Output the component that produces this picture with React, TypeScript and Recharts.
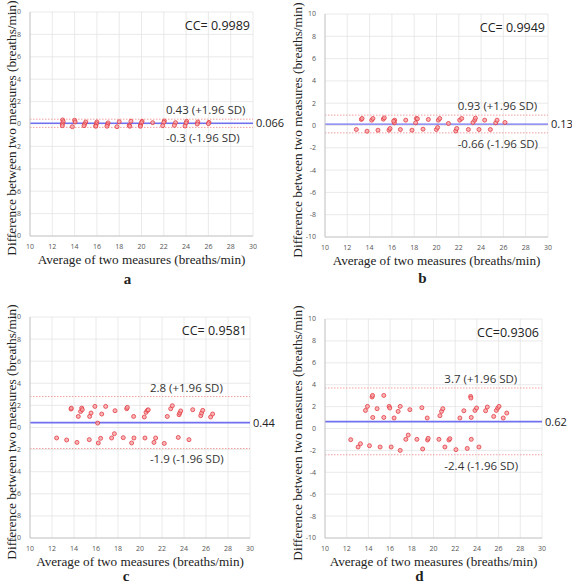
import React from "react";
import {
  ScatterChart,
  Scatter,
  XAxis,
  YAxis,
  CartesianGrid,
  ReferenceLine,
} from "recharts";

// panel a
const aAvg = [12.93, 12.98, 12.9, 12.9, 14.0, 14.05, 13.8, 15.0, 14.9, 14.85, 16.0, 15.95, 15.9, 15.9, 17.0, 16.95, 16.9, 18.0, 17.8, 19.05, 18.9, 18.95, 20.05, 20.0, 19.9, 19.9, 21.0, 22.05, 22.0, 21.9, 23.05, 22.95, 24.05, 24.0, 23.9, 25.05, 25.0, 26.05, 26.0];
const aDiff = [0.36, 0.2, 0.0, -0.15, 0.33, 0.18, -0.24, 0.18, 0.0, -0.15, 0.18, 0.03, -0.15, -0.2, 0.1, -0.06, -0.2, 0.2, -0.24, 0.25, -0.12, -0.2, 0.24, 0.12, -0.1, -0.2, 0.12, 0.27, 0.15, -0.15, 0.12, -0.12, 0.24, 0.1, -0.18, 0.18, 0.0, 0.15, 0.03];

// panel b
const bAvg = [12.81, 13.26, 13.32, 13.77, 14.19, 14.3, 14.75, 15.23, 15.32, 15.74, 15.83, 16.25, 16.22, 16.16, 16.76, 17.24, 17.8, 18.2, 18.13, 18.29, 18.79, 19.27, 19.99, 20.1, 20.17, 20.29, 21.07, 21.72, 21.81, 22.08, 22.26, 22.86, 23.27, 23.43, 23.49, 23.81, 24.32, 24.83, 25.31, 25.43, 26.14];
const bDiff = [-0.36, 0.54, 0.63, -0.51, 0.48, 0.63, -0.42, 0.57, 0.68, -0.42, -0.27, 0.48, 0.24, 0.39, -0.36, 0.48, -0.42, 0.63, 0.24, 0.6, -0.33, 0.54, -0.36, -0.18, 0.48, 0.63, 0.18, -0.49, -0.27, 0.48, 0.63, -0.36, 0.27, 0.48, 0.66, -0.36, 0.48, -0.36, 0.24, 0.48, 0.27];

// panel c
const cAvg = [13.73, 13.75, 14.39, 14.6, 14.7, 14.75, 15.42, 15.55, 15.9, 16.52, 16.88, 17.73, 18.79, 18.85, 19.42, 20.39, 20.55, 20.67, 20.75, 22.48, 22.79, 22.94, 23.55, 23.61, 23.7, 24.79, 25.52, 25.6, 25.7, 26.42, 26.6, 16.15, 12.42, 13.33, 14.27, 15.39, 16.21, 16.42, 17.42, 17.67, 18.48, 19.24, 19.45, 20.45, 21.27, 21.42, 22.21, 23.48, 24.45];
const cDiff = [1.67, 1.75, 1.0, 1.45, 1.76, 1.61, 1.0, 1.31, 1.91, 1.22, 1.91, 1.52, 1.7, 1.82, 1.0, 0.95, 1.37, 1.55, 1.6, 1.0, 1.7, 1.97, 1.16, 1.31, 1.5, 1.61, 1.07, 1.31, 1.55, 0.95, 1.22, 0.4, -0.95, -1.13, -1.35, -1.1, -1.4, -0.98, -0.95, -0.56, -0.92, -1.4, -0.95, -0.95, -1.35, -0.95, -1.44, -0.9, -1.1];

// panel d
const dAvg = [14.34, 14.38, 15.42, 13.91, 13.73, 14.8, 14.4, 15.42, 15.91, 15.97, 16.37, 16.93, 16.74, 17.82, 18.93, 19.42, 20.59, 20.74, 20.86, 22.43, 22.8, 23.42, 23.45, 23.48, 23.82, 23.97, 24.96, 24.8, 25.79, 25.92, 26.04, 26.75, 26.43, 25.55, 12.37, 13.05, 13.27, 14.1, 15.08, 16.1, 16.93, 17.45, 17.67, 18.47, 19.45, 19.51, 19.0, 20.5, 21.42, 21.51, 21.05, 22.07, 23.11, 23.48, 24.19];
const dDiff = [2.88, 3.02, 3.02, 2.02, 1.65, 1.81, 1.01, 1.01, 2.02, 1.87, 0.96, 2.02, 1.56, 1.72, 1.9, 0.96, 1.17, 1.56, 1.81, 0.96, 1.62, 2.93, 2.78, 1.01, 1.65, 1.87, 1.96, 1.62, 1.65, 1.87, 2.02, 1.41, 0.96, 1.1, -1.02, -1.69, -1.39, -1.57, -1.69, -1.69, -2.0, -0.99, -0.6, -0.99, -1.05, -0.9, -1.87, -0.99, -1.05, -0.93, -1.69, -1.93, -1.82, -0.99, -1.69];

const letters = ["a", "b", "c", "d"];
const ccLabels = ["CC= 0.9989", "CC= 0.9949", "CC= 0.9581", "CC=0.9306"];
const meanDiff = [0.066, 0.13, 0.44, 0.62];
const upperLoa = [0.43, 0.93, 2.8, 3.7];
const lowerLoa = [-0.3, -0.66, -1.9, -2.4];
const upperText = ["0.43 (+1.96 SD)", "0.93 (+1.96 SD)", "2.8 (+1.96 SD)", "3.7 (+1.96 SD)"];
const lowerText = ["-0.3 (-1.96 SD)", "-0.66 (-1.96 SD)", "-1.9 (-1.96 SD)", "-2.4 (-1.96 SD)"];
const xTicks = [10, 12, 14, 16, 18, 20, 22, 24, 26, 28, 30];
const yTicks = [-10, -8, -6, -4, -2, 0, 2, 4, 6, 8, 10];

const series = [
  aAvg.map((x, i) => ({ x, y: aDiff[i] })),
  bAvg.map((x, i) => ({ x, y: bDiff[i] })),
  cAvg.map((x, i) => ({ x, y: cDiff[i] })),
  dAvg.map((x, i) => ({ x, y: dDiff[i] })),
];

// layout of each panel: container position and chart margins
const panels = [
  { left: 0, top: 0, h: 290, letterDy: 35, margin: { top: 12, right: 33, bottom: 40, left: 10 } },
  { left: 286, top: 0, h: 290, letterDy: 33, margin: { top: 14, right: 24, bottom: 39, left: 19 } },
  { left: 0, top: 290, h: 294, letterDy: 30, margin: { top: 27, right: 36, bottom: 32, left: 10 } },
  { left: 286, top: 290, h: 294, letterDy: 30, margin: { top: 29, right: 30, bottom: 32, left: 19 } },
];

const SANS = "'Open Sans', 'Noto Sans', sans-serif";
const SERIF = "'Liberation Serif', 'DejaVu Serif', serif";

const Dot = (props: any) => (
  <circle
    cx={props.cx}
    cy={props.cy}
    r={2}
    fill="#f7a3a6"
    fillOpacity={0.8}
    stroke="#e23a40"
    strokeWidth={0.8}
  />
);

const loaLabel = (text: string, above: boolean, frac: number) => (props: any) => {
  const vb = props.viewBox || {};
  return (
    <text
      x={vb.x + vb.width * frac}
      y={above ? vb.y - 5 : vb.y + 15}
      fontSize={11.5}
      fontFamily={SANS}
      fill="#333"
    >
      {text}
    </text>
  );
};

function Panel({ idx }: { idx: number }) {
  const p = panels[idx];
  const plotLeft = p.left + p.margin.left + 20;
  const plotRight = p.left + 286 - p.margin.right;
  const plotTop = p.top + p.margin.top;
  const plotBottom = p.top + p.h - p.margin.bottom - 14;
  const cx = (plotLeft + plotRight) / 2;
  const cy = (plotTop + plotBottom) / 2;
  const meanY = plotTop + ((10 - meanDiff[idx]) / 20) * (plotBottom - plotTop);
  const fracs = [0.61, 0.595, 0.545, 0.55];
  return (
    <>
      <div style={{ position: "absolute", left: p.left, top: p.top }}>
        <ScatterChart width={286} height={p.h} margin={p.margin}>
          <CartesianGrid stroke="#e4e4e4" strokeWidth={0.8} />
          <XAxis
            type="number"
            dataKey="x"
            domain={[10, 30]}
            ticks={xTicks}
            interval={0}
            tickLine={false}
            axisLine={{ stroke: "#c8c8c8" }}
            height={14}
            tick={{ fontSize: 7, fill: "#555", fontFamily: SANS }}
            tickMargin={2}
          />
          <YAxis
            type="number"
            dataKey="y"
            domain={[-10, 10]}
            ticks={yTicks}
            interval={0}
            tickLine={false}
            axisLine={{ stroke: "#c8c8c8" }}
            width={20}
            tick={{ fontSize: 7, fill: "#555", fontFamily: SANS }}
            tickMargin={3}
          />
          <ReferenceLine
            y={upperLoa[idx]}
            stroke="#f2a0a0"
            strokeDasharray="1.5 1.5"
            strokeWidth={1}
            label={loaLabel(upperText[idx], true, fracs[idx])}
          />
          <ReferenceLine
            y={lowerLoa[idx]}
            stroke="#f2a0a0"
            strokeDasharray="1.5 1.5"
            strokeWidth={1}
            label={loaLabel(lowerText[idx], false, fracs[idx])}
          />
          <ReferenceLine
            y={meanDiff[idx]}
            stroke="#7070f0"
            strokeWidth={idx < 2 ? 1.3 : 1.8}
          />
          <Scatter data={series[idx]} shape={Dot} isAnimationActive={false} />
        </ScatterChart>
      </div>
      <div
        style={{
          position: "absolute",
          left: plotRight + 3,
          top: meanY - 9,
          height: 18,
          lineHeight: "18px",
          fontFamily: SANS,
          fontSize: 11,
          color: "#222",
          whiteSpace: "nowrap",
        }}
      >
        {String(meanDiff[idx])}
      </div>
      <div
        style={{
          position: "absolute",
          left: plotRight - 100,
          width: 97,
          top: plotTop + 5,
          textAlign: "right",
          fontFamily: SANS,
          fontSize: 12.5,
          color: "#222",
        }}
      >
        {ccLabels[idx]}
      </div>
      <div
        style={{
          position: "absolute",
          left: cx - 140,
          width: 280,
          top: plotBottom + 16,
          textAlign: "center",
          fontFamily: SERIF,
          fontSize: 13.2,
          color: "#222",
          whiteSpace: "nowrap",
        }}
      >
        Average of two measures (breaths/min)
      </div>
      <div
        style={{
          position: "absolute",
          left: cx - 140 - 14,
          width: 280,
          top: plotBottom + p.letterDy,
          textAlign: "center",
          fontFamily: SERIF,
          fontSize: 15,
          fontWeight: "bold",
          color: "#222",
        }}
      >
        {letters[idx]}
      </div>
      <div
        style={{
          position: "absolute",
          left: p.left + 12 - 150,
          top: cy + 4 - 10,
          width: 300,
          height: 20,
          lineHeight: "20px",
          textAlign: "center",
          transform: "rotate(-90deg)",
          fontFamily: SERIF,
          fontSize: 13.3,
          color: "#222",
          whiteSpace: "nowrap",
        }}
      >
        Difference between two measures (breaths/min)
      </div>
    </>
  );
}

export default function App() {
  return (
    <div
      style={{
        position: "absolute",
        left: 0,
        top: 0,
        width: 572,
        height: 584,
        background: "#fff",
        overflow: "hidden",
      }}
    >
      {[0, 1, 2, 3].map((i) => (
        <Panel key={i} idx={i} />
      ))}
    </div>
  );
}
